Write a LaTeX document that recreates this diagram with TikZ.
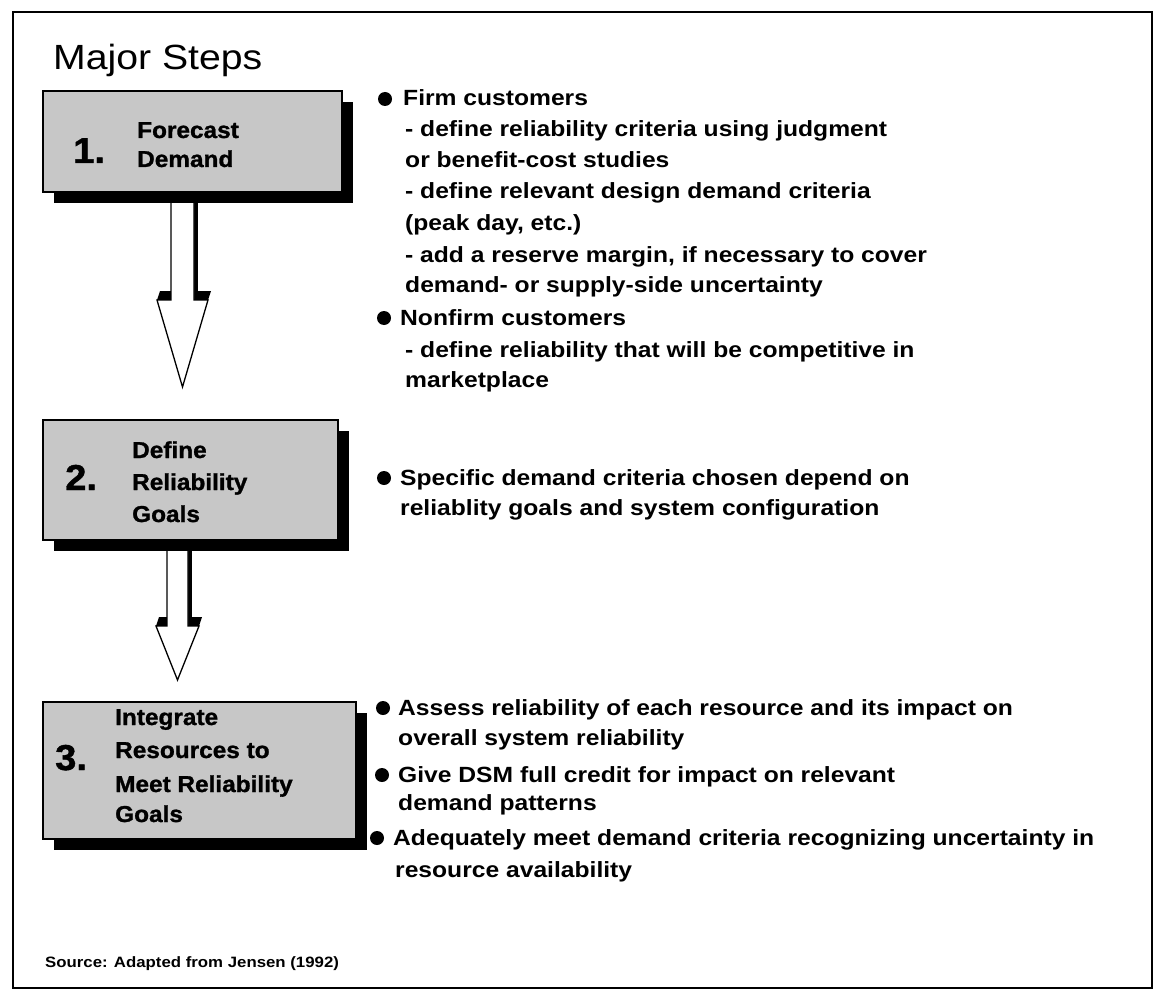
\documentclass[tikz,border=0pt]{standalone}
\usepackage{fontspec}
\setmainfont{Liberation Sans}[FakeStretch=1.12]
\newfontfamily\heavyfont{Liberation Sans}[FakeStretch=1.06, FakeBold=1.2]
\usetikzlibrary{calc,shadows,backgrounds}

\tikzset{
  stepbox/.style={draw=black, line width=1.8pt, fill=black!22, inner sep=0pt,
    drop shadow={shadow xshift=11pt, shadow yshift=-11pt, opacity=1, fill=black}},
  boxnum/.style={anchor=base west, inner sep=0pt, font=\heavyfont\fontsize{36}{36}\selectfont\bfseries},
  boxtxt/.style={anchor=base west, inner sep=0pt, font=\heavyfont\fontsize{23}{23}\selectfont\bfseries},
  body/.style={anchor=base west, inner sep=0pt, font=\fontsize{22}{22}\selectfont\bfseries},
  dot/.style={circle, fill=black, inner sep=0pt, minimum size=14pt},
  arrowbody/.style={draw=black, line width=1.3pt, fill=white, line join=miter},
  arrowshade/.style={fill=black},
}

% hollow block arrow: #1 start coordinate (centre of shaft top), #2 tip,
% #3 half shaft width, #4 half head width, #5 head length
\newcommand{\blockarrow}[5]{%
  \path[arrowbody] ($(#1)+(-#3,0)$) -- ($(#2)+(-#3,-#5)$) -- ($(#2)+(-#4,-#5)$)
     -- (#2) -- ($(#2)+(#4,-#5)$) -- ($(#2)+(#3,-#5)$) -- ($(#1)+(#3,0)$) -- cycle;}
% dark relief behind it: a strip along the right of the shaft and a band
% above the shoulders of the head
\newcommand{\arrowrelief}[5]{%
  \path[arrowshade] ($(#1)+(-#3+4,0)$) rectangle ($(#2)+(#3+4,-#5)$);
  \path[arrowshade] ($(#2)+(-#4,-#5)$) -- ($(#2)+(-#4+3,-#5-9)$)
     -- ($(#2)+(#4+3,-#5-9)$) -- ($(#2)+(#4,-#5)$) -- cycle;}

\begin{document}
\begin{tikzpicture}[x=1pt, y=-1pt]
\useasboundingbox (0,0) rectangle (1156,1003);

% outer frame
\draw[line width=2.4pt] (13,12) rectangle (1152,988);

% title
\node[anchor=base west, inner sep=0pt, font=\fontsize{35}{35}\selectfont] (title) at (53,70) {Major Steps};

% step boxes
\node[stepbox, minimum width=299pt, minimum height=101pt] (b1) at (192.5,141.5) {};
\node[stepbox, minimum width=295pt, minimum height=120pt] (b2) at (190.5,480) {};
\node[stepbox, minimum width=313pt, minimum height=137pt] (b3) at (199.5,770.5) {};

% box labels
\node[boxnum] (n1) at (73,163) {1.};
\node[boxtxt] (l1a) at (137,138) {Forecast};
\node[boxtxt] (l1b) at (137,167) {Demand};

\node[boxnum] (n2) at (65,490) {2.};
\node[boxtxt] (l2a) at (132,458) {Define};
\node[boxtxt] (l2b) at (132,490) {Reliability};
\node[boxtxt] (l2c) at (132,522) {Goals};

\node[boxnum] (n3) at (55,770) {3.};
\node[boxtxt] (l3a) at (115,725) {Integrate};
\node[boxtxt] (l3b) at (115,758) {Resources to};
\node[boxtxt] (l3c) at (115,792) {Meet Reliability};
\node[boxtxt] (l3d) at (115,822) {Goals};

% hollow arrows between the boxes, behind them
\coordinate (t1) at (182.5,387);
\coordinate (s1) at (t1 |- b1.south);
\coordinate (t2) at (177.5,680);
\coordinate (s2) at (t2 |- b2.south);
\begin{scope}[on background layer]
  \arrowrelief{s1}{t1}{11.5}{25.5}{87}
  \arrowrelief{s2}{t2}{10.5}{21.5}{54}
  \blockarrow{s1}{t1}{11.5}{25.5}{87}
  \blockarrow{s2}{t2}{10.5}{21.5}{54}
\end{scope}

% notes for step 1
\node[dot] (d1) at (385,99) {};
\node[body] (p1) at (403,106) {Firm customers};
\node[body] (p2) at (405,137) {- define reliability criteria using judgment};
\node[body] (p3) at (405,168) {or benefit-cost studies};
\node[body] (p4) at (405,199) {- define relevant design demand criteria};
\node[body] (p5) at (405,230) {(peak day, etc.)};
\node[body] (p6) at (405,262) {- add a reserve margin, if necessary to cover};
\node[body] (p7) at (405,292) {demand- or supply-side uncertainty};
\node[dot] (d2) at (384,318) {};
\node[body] (p8) at (400,325) {Nonfirm customers};
\node[body] (p9) at (405,357) {- define reliability that will be competitive in};
\node[body] (p10) at (405,387) {marketplace};

% notes for step 2
\node[dot] (d3) at (384,478) {};
\node[body] (q1) at (400,485) {Specific demand criteria chosen depend on};
\node[body] (q2) at (400,515) {reliablity goals and system configuration};

% notes for step 3
\node[dot] (d4) at (383,708) {};
\node[body] (r1) at (398,715) {Assess reliability of each resource and its impact on};
\node[body] (r2) at (398,745) {overall system reliability};
\node[dot] (d5) at (382,775) {};
\node[body] (r3) at (398,782) {Give DSM full credit for impact on relevant};
\node[body] (r4) at (398,810) {demand patterns};
\node[dot] (d6) at (377,838) {};
\node[body] (r5) at (393,845) {Adequately meet demand criteria recognizing uncertainty in};
\node[body] (r6) at (395,877) {resource availability};

% source line
\node[anchor=base west, inner sep=0pt, font=\fontsize{15}{15}\selectfont\bfseries] (src) at (45,967) {Source: Adapted from Jensen (1992)};
\end{tikzpicture}
\end{document}
